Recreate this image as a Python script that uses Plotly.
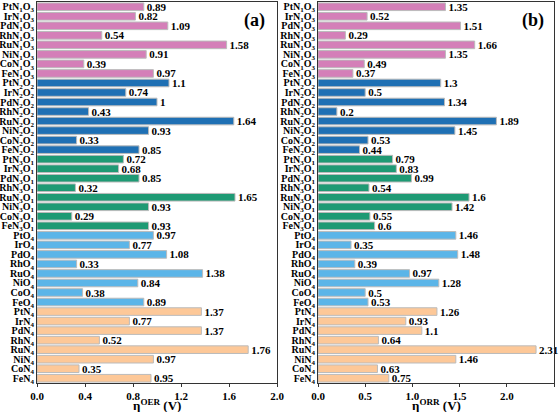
import plotly.graph_objects as go
from plotly.subplots import make_subplots

metals = ["Pt", "Ir", "Pd", "Rh", "Ru", "Ni", "Co", "Fe"]
groups = ["N<sub>1</sub>O<sub>3</sub>", "N<sub>2</sub>O<sub>2</sub>", "N<sub>3</sub>O<sub>1</sub>", "O<sub>4</sub>", "N<sub>4</sub>"]
group_colors = ["#D47FB8", "#1F70B4", "#1E9A74", "#5BB5E8", "#FDC898"]

oer_n1o3 = [0.89, 0.82, 1.09, 0.54, 1.58, 0.91, 0.39, 0.97]
oer_n2o2 = [1.1, 0.74, 1, 0.43, 1.64, 0.93, 0.33, 0.85]
oer_n3o1 = [0.72, 0.68, 0.85, 0.32, 1.65, 0.93, 0.29, 0.93]
oer_o4 = [0.97, 0.77, 1.08, 0.33, 1.38, 0.84, 0.38, 0.89]
oer_n4 = [1.37, 0.77, 1.37, 0.52, 1.76, 0.97, 0.35, 0.95]

orr_n1o3 = [1.35, 0.52, 1.51, 0.29, 1.66, 1.35, 0.49, 0.37]
orr_n2o2 = [1.3, 0.5, 1.34, 0.2, 1.89, 1.45, 0.53, 0.44]
orr_n3o1 = [0.79, 0.83, 0.99, 0.54, 1.6, 1.42, 0.55, 0.6]
orr_o4 = [1.46, 0.35, 1.48, 0.39, 0.97, 1.28, 0.5, 0.53]
orr_n4 = [1.26, 0.93, 1.1, 0.64, 2.31, 1.46, 0.63, 0.75]

oer = [oer_n1o3, oer_n2o2, oer_n3o1, oer_o4, oer_n4]
orr = [orr_n1o3, orr_n2o2, orr_n3o1, orr_o4, orr_n4]

FONT = "Liberation Serif"

cats, colors, oer_vals, orr_vals = [], [], [], []
for gi, g in enumerate(groups):
    for mi, m in enumerate(metals):
        cats.append(m + g)
        colors.append(group_colors[gi])
        oer_vals.append(oer[gi][mi])
        orr_vals.append(orr[gi][mi])

fig = make_subplots(rows=1, cols=2)

for col, vals in [(1, oer_vals), (2, orr_vals)]:
    fig.add_trace(go.Bar(
        x=vals, y=cats, orientation="h",
        marker=dict(color=colors, line=dict(color="#BBBBBB", width=1)),
        text=[f"{v:g}" for v in vals], textposition="outside",
        constraintext="none",
        textfont=dict(family=FONT, size=11, color="black", weight=700),
        cliponaxis=False, showlegend=False,
    ), row=1, col=col)

axis_common = dict(showline=True, linecolor="#333333", linewidth=1, mirror=True,
                   showgrid=False, zeroline=False, automargin=False)

fig.update_xaxes(**axis_common, ticks="outside", ticklen=3, tickcolor="#333333",
                 tickfont=dict(family=FONT, size=11, color="black", weight=700))
fig.update_yaxes(**axis_common, ticks="", autorange="reversed",
                 tickmode="array", tickvals=cats, ticktext=cats,
                 tickfont=dict(family=FONT, size=10, color="black", weight=700))

fig.update_xaxes(range=[0, 2.0], tickmode="array", tickvals=[0, 0.4, 0.8, 1.2, 1.6, 2.0],
                 ticktext=["0.0", "0.4", "0.8", "1.2", "1.6", "2.0"],
                 domain=[37/559, 277/559], row=1, col=1)
fig.update_xaxes(range=[0, 2.5], tickmode="array", tickvals=[0, 0.5, 1.0, 1.5, 2.0, 2.5],
                 ticktext=["0.0", "0.5", "1.0", "1.5", "2.0", "2.5"],
                 domain=[318/559, 554/559], row=1, col=2)

title_font = dict(family=FONT, size=13, color="black", weight=700)
fig.add_annotation(text="η<sup>OER</sup> (V)", x=0.5, y=0, xref="x domain", yref="paper",
                   yshift=-12, xanchor="center", yanchor="top", showarrow=False, font=title_font)
fig.add_annotation(text="η<sup>ORR</sup> (V)", x=0.5, y=0, xref="x2 domain", yref="paper",
                   yshift=-12, xanchor="center", yanchor="top", showarrow=False, font=title_font)

fig.add_annotation(text="(a)", x=0.96, y=0.985, xref="x domain", yref="y domain",
                   xanchor="right", yanchor="top", showarrow=False,
                   font=dict(family=FONT, size=18, color="black", weight=700))
fig.add_annotation(text="(b)", x=0.965, y=0.985, xref="x2 domain", yref="y2 domain",
                   xanchor="right", yanchor="top", showarrow=False,
                   font=dict(family=FONT, size=18, color="black", weight=700))

fig.update_layout(width=559, height=412, bargap=0.2,
                  margin=dict(l=0, r=0, t=2, b=29),
                  plot_bgcolor="white", paper_bgcolor="white",
                  font=dict(family=FONT, color="black"))

fig.write_html("out.html", config={"displayModeBar": False},
               post_script="document.body.style.margin='0';")
